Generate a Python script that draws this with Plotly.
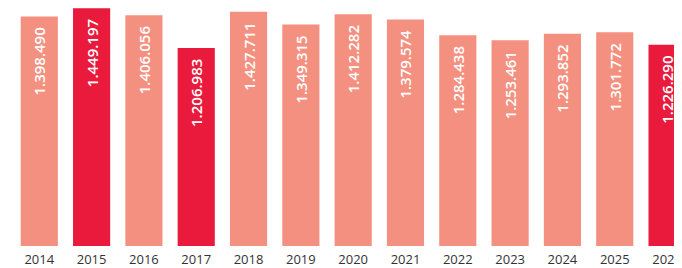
import plotly.graph_objects as go

years = ["2014", "2015", "2016", "2017", "2018", "2019", "2020",
         "2021", "2022", "2023", "2024", "2025", "2026"]
values = [1398.490, 1449.197, 1406.056, 1206.983, 1427.711, 1349.315, 1412.282,
          1379.574, 1284.438, 1253.461, 1293.852, 1301.772, 1226.290]
labels = ["1.398.490", "1.449.197", "1.406.056", "1.206.983", "1.427.711", "1.349.315",
          "1.412.282", "1.379.574", "1.284.438", "1.253.461", "1.293.852", "1.301.772",
          "1.226.290"]
highlight = ["2015", "2017", "2026"]

SALMON = "#F4907F"
RED = "#E91A3C"
colors = [RED if y in highlight else SALMON for y in years]

fig = go.Figure()
fig.add_trace(go.Bar(
    x=years, y=values, marker=dict(color=colors, line=dict(width=0)),
    text=[t + "\u00a0\u00a0" for t in labels],
    textposition="inside", insidetextanchor="end", textangle=-90,
    textfont=dict(family="Open Sans", size=15, color="white", weight=600),
    cliponaxis=False, hoverinfo="skip",
))

fig.update_layout(
    width=674, height=260,
    margin=dict(l=0, r=0, t=0, b=21),
    paper_bgcolor="white", plot_bgcolor="white",
    bargap=0.29, showlegend=False,
    uniformtext=dict(minsize=15, mode="show"),
    xaxis=dict(type="category", range=[-0.598, 12.19], showgrid=False,
               showline=False, zeroline=False, ticks="",
               tickfont=dict(family="Open Sans", size=13, color="#333333"),
               ticklabelstandoff=4),
    yaxis=dict(range=[0, 1450], visible=False),
)

fig.write_html("out.html")
